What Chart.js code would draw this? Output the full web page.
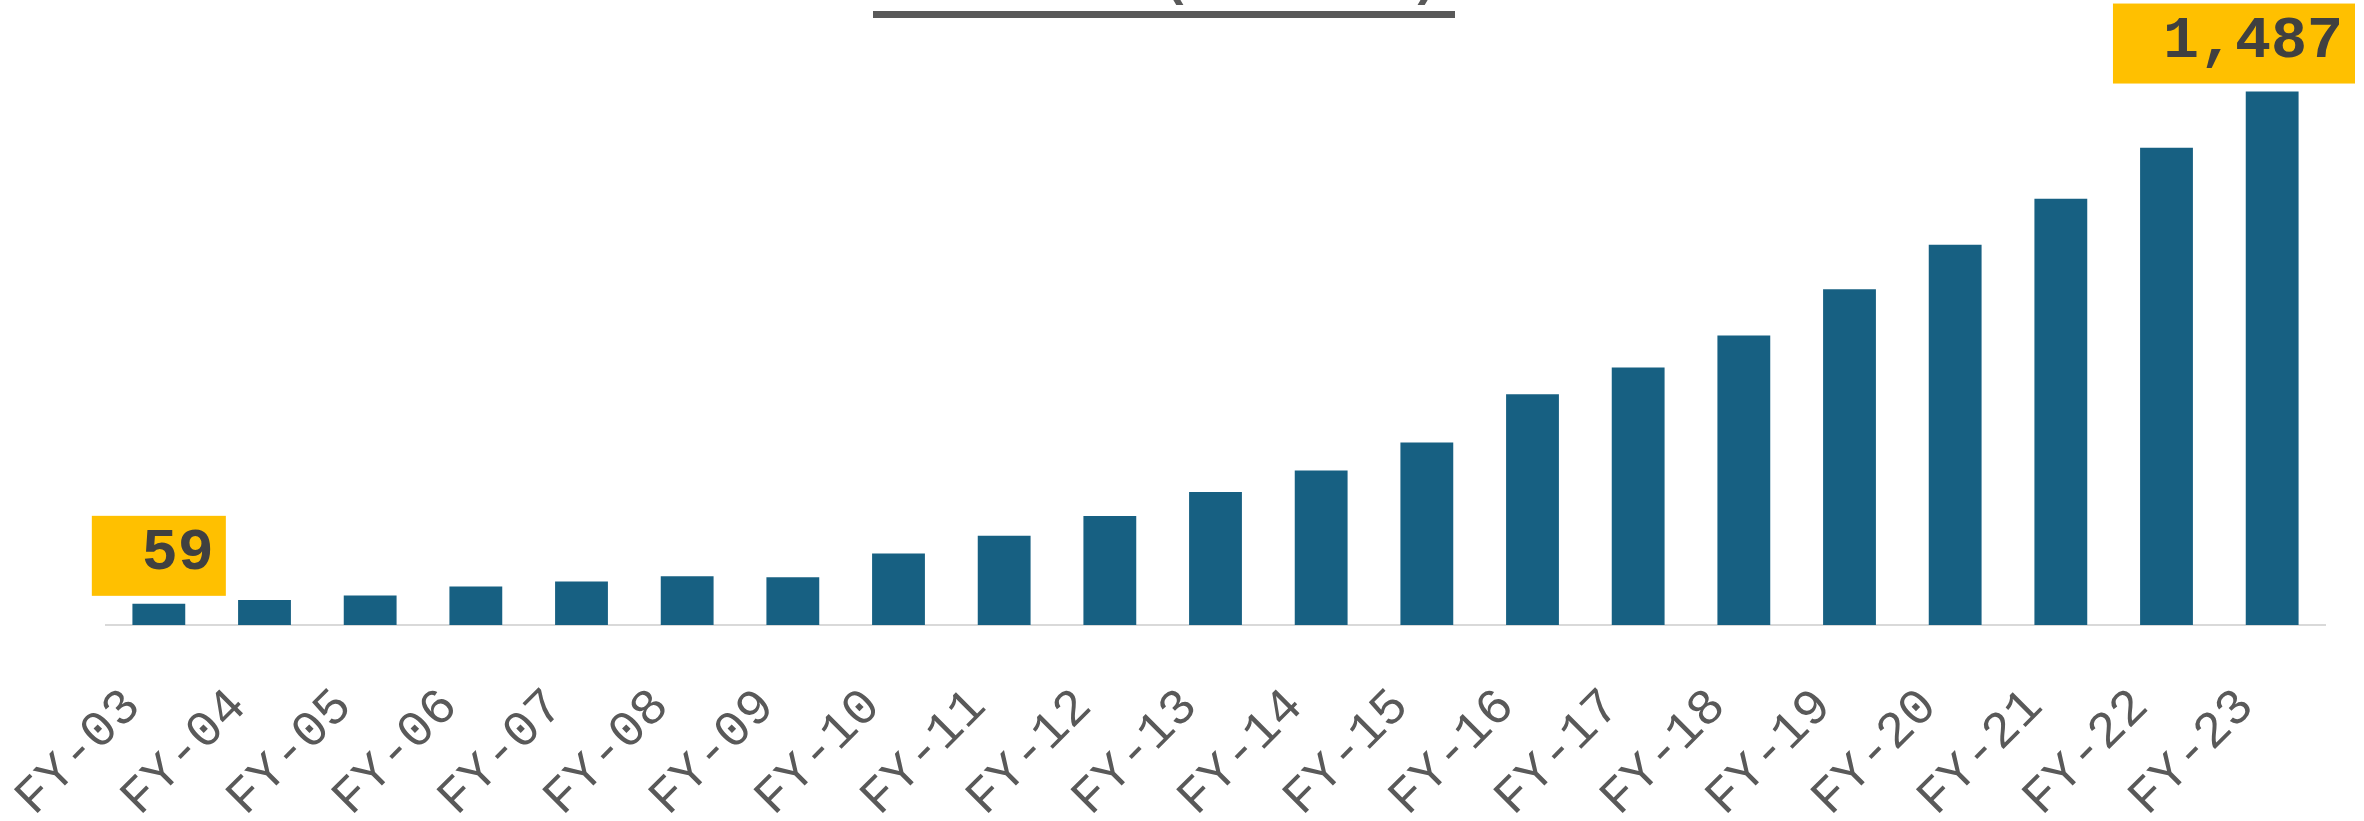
<!DOCTYPE html>
<html>
<head>
<meta charset="utf-8">
<script src="https://cdn.jsdelivr.net/npm/chart.js@4.4.1/dist/chart.umd.min.js"></script>
<style>
  html, body { margin: 0; padding: 0; background: #fff; }
  #wrap { position: relative; width: 2364px; height: 821px; }
</style>
</head>
<body>
<div id="wrap"><canvas id="chart"></canvas></div>
<script>
// data
const years = ['FY-03', 'FY-04', 'FY-05', 'FY-06', 'FY-07', 'FY-08', 'FY-09', 'FY-10', 'FY-11', 'FY-12',
    'FY-13', 'FY-14', 'FY-15', 'FY-16', 'FY-17', 'FY-18', 'FY-19', 'FY-20', 'FY-21', 'FY-22', 'FY-23'];
const turnover = [59, 70, 82, 107, 121, 136, 133, 199, 249, 304,
    371, 431, 509, 643, 718, 807, 936, 1060, 1188, 1330, 1487];
const calloutIndex = [0, 20];
const titleText = 'Turnover (₹ Crore)';

const MONO = '"Liberation Mono", "Courier New", monospace';

// gold value boxes over first / last bar, plus the (clipped) underlined title
const callouts = {
    id: 'callouts',
    afterDatasetsDraw(chart) {
        const ctx = chart.ctx;
        const bars = chart.getDatasetMeta(0).data;
        ctx.save();
        ctx.font = 'bold 60px ' + MONO;
        calloutIndex.forEach(function (i) {
            const bar = bars[i];
            const label = ' ' + turnover[i].toLocaleString('en-US');
            const w = ctx.measureText(label).width + 26;
            const h = 80;
            let left = bar.x - w / 2;
            left = Math.min(left, chart.width - 9 - w);
            const top = bar.y - 8 - h;
            ctx.fillStyle = '#ffc000';
            ctx.fillRect(left, top, w, h);
            ctx.fillStyle = '#404040';
            ctx.textAlign = 'right';
            ctx.textBaseline = 'middle';
            ctx.fillText(label, left + w - 12, top + h / 2 - 2);
        });

        // title sits mostly above the canvas, only its underline shows
        ctx.font = 'bold 52px ' + MONO;
        const cx = 1160;
        ctx.fillStyle = '#595959';
        ctx.textAlign = 'center';
        ctx.textBaseline = 'alphabetic';
        ctx.fillText(titleText, cx, -6);
        ctx.fillRect(873, 11, 582, 7);
        ctx.restore();
    }
};

document.addEventListener('DOMContentLoaded', function () {
    const ctx = document.getElementById('chart').getContext('2d');
    const chart = new Chart(ctx, {
        type: 'bar',
        data: {
            labels: years,
            datasets: [{
                label: 'Turnover',
                backgroundColor: '#176082',
                borderWidth: 0,
                data: turnover,
                categoryPercentage: 1,
                barPercentage: 0.5,
            }],
        },
        options: {
            responsive: true,
            maintainAspectRatio: false,
            animation: false,
            devicePixelRatio: 1,
            layout: {
                padding: { left: 106, right: 39, top: 51, bottom: 0 },
            },
            plugins: {
                legend: { display: false },
                tooltip: { enabled: false },
                title: { display: false },
            },
            scales: {
                x: {
                    grid: { display: false, drawTicks: false },
                    border: { display: true, color: '#d9d9d9', width: 2 },
                    ticks: {
                        autoSkip: false,
                        minRotation: 45,
                        maxRotation: 45,
                        padding: 52,
                        labelOffset: -26,
                        color: '#595959',
                        font: { family: MONO, size: 51 },
                    },
                    afterFit: function (scale) {
                        scale.height = 196;
                        scale.paddingLeft = 0;
                        scale.paddingRight = 0;
                    },
                },
                y: {
                    display: false,
                    min: 0,
                    max: 1600,
                },
            },
        },
        plugins: [callouts],
    });
});
</script>
</body>
</html>
